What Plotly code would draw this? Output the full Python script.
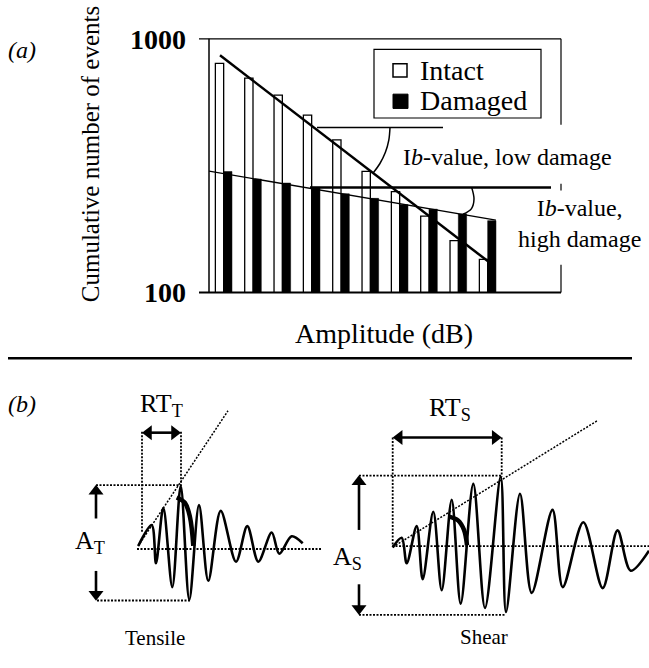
import plotly.graph_objects as go

W, H = 649, 668
FONT = "Liberation Serif, Times New Roman, Times, serif"

# ---------------- Panel (a) data ----------------
amplitude_bins = list(range(10))            # amplitude-bin index (category)
intact_counts = [800, 700, 600, 500, 400, 300, 250, 200, 160, 135]
damaged_counts = [300, 280, 270, 260, 245, 235, 222, 213, 204, 192]
y_tick_vals = [100, 1000]
y_tick_text = ["100", "1000"]
# fitted lines (end points, in bin / count units)
intact_fit_x = [-0.125, 9.0]
intact_fit_y = [861, 133]
damaged_fit_x = [-0.5, 9.28]
damaged_fit_y = [301, 193]

# ---------------- Panel (b) schematic data (pixel frame) ----------------
tensile_x = [138.3, 151.7, 156, 163.3, 172.3, 180.7, 189.3, 199, 208.3, 220.7,
             236, 247.3, 258.3, 271.7, 279.3, 291.7, 302.7]
tensile_y = [556.7, 535, 575, 516.7, 600, 494, 613.3, 514, 593.3, 520,
             573.3, 536, 573.3, 542.7, 565, 546.7, 554]
shear_x = [392.7, 401.7, 406.7, 416.7, 422.7, 433.3, 441.7, 451.7, 460.7, 473.3,
           485, 500.7, 506, 520, 531.7, 552.5, 562.7, 583.3, 602.7, 617.5, 630.7, 649]
shear_y = [558.3, 548.3, 575, 536, 591.7, 521, 603.3, 508.3, 617.3, 491.7,
           621.7, 484, 626, 502, 606, 519, 600, 532, 601, 540.5, 582.7, 561.7]
tensile_arc_x = [176.7, 185, 190, 193.3]
tensile_arc_y = [506, 511.7, 526.7, 556.7]
shear_arc_x = [449, 458, 464, 467]
shear_arc_y = [526, 530, 540, 556]

# decorations for panel (a) (pixel frame)
low_ref_x, low_ref_y = [317, 443], [118, 118]
high_ref_x, high_ref_y = [310, 551], [181, 181]
low_arc_x = [390, 388.8, 385.4, 379.8, 373]
low_arc_y = [118, 131.2, 144, 156, 165.8]
high_arc_x = [471.7, 474, 471.5, 463]
high_arc_y = [181, 193, 203, 209]

# panel a plot-area pixel box
PX0, PX1, PY0, PY1 = 209, 561, 25, 291

fig = go.Figure()

fig.add_trace(go.Bar(x=amplitude_bins, y=intact_counts, name="Intact",
                     marker=dict(color="white", line=dict(color="black", width=1.3)),
                     xaxis="x", yaxis="y"))
fig.add_trace(go.Bar(x=amplitude_bins, y=damaged_counts, name="Damaged",
                     marker=dict(color="black", line=dict(color="black", width=0.5)),
                     xaxis="x", yaxis="y"))
fig.add_trace(go.Scatter(x=intact_fit_x, y=intact_fit_y, mode="lines",
                         line=dict(color="black", width=2.5), xaxis="x", yaxis="y"))
fig.add_trace(go.Scatter(x=damaged_fit_x, y=damaged_fit_y, mode="lines",
                         line=dict(color="black", width=1.3), xaxis="x", yaxis="y"))

def ov(x, y, width=2, dash=None, shape="linear", smooth=None):
    ln = dict(color="black", width=width, shape=shape)
    if dash:
        ln["dash"] = dash
    if smooth is not None:
        ln["smoothing"] = smooth
    fig.add_trace(go.Scatter(x=x, y=y, mode="lines", line=ln, xaxis="x2", yaxis="y2"))

DOT = "2px,1.5px"
# panel a decorations
ov(low_ref_x, low_ref_y, 1.3)
ov(high_ref_x, high_ref_y, 2.5)
ov(low_arc_x, low_arc_y, 1.5, shape="spline")
ov(high_arc_x, high_arc_y, 1.5, shape="spline")

# panel b: tensile
ov([142, 142], [437, 542], 1.8, DOT)
ov([181, 181], [437, 494], 1.8, DOT)
ov([96, 181], [493, 493], 1.8, DOT)
ov([97, 190], [614, 614], 1.8, DOT)
ov([137, 322], [560, 560], 1.8, DOT)
ov([138, 228], [557, 415], 1.5, DOT)
ov(tensile_x, tensile_y, 2.6, shape="spline", smooth=0.9)
ov(tensile_arc_x, tensile_arc_y, 4.5, shape="spline")
# panel b: shear
ov([392.7, 392.7], [443, 557], 1.8, DOT)
ov([501.7, 501.7], [443, 484], 1.8, DOT)
ov([359, 502], [483, 483], 1.8, DOT)
ov([359, 506], [629, 629], 1.8, DOT)
ov([392, 649], [557, 557], 1.8, DOT)
ov([392.7, 598], [558, 425], 1.5, DOT)
ov(shear_x, shear_y, 2.6, shape="spline", smooth=0.9)
ov(shear_arc_x, shear_arc_y, 4.5, shape="spline")

# arrows: shaft + triangular head marker (pixel frame)
HEAD = 13
R = HEAD / 2.0
def arrow(tail, tip, both=False):
    (x0, y0), (x1, y1) = tail, tip
    horiz = (y0 == y1)
    def head(px, py, toward_pos):
        if horiz:
            sym = "triangle-right" if toward_pos else "triangle-left"
            return (px - R if toward_pos else px + R), py, sym
        sym = "triangle-down" if toward_pos else "triangle-up"
        return px, (py - R if toward_pos else py + R), sym
    hx, hy, hs = head(x1, y1, (x1 > x0) if horiz else (y1 > y0))
    xs, ys, syms = [hx], [hy], [hs]
    sx0, sy0 = x0, y0
    if both:
        bx, by, bs = head(x0, y0, (x0 > x1) if horiz else (y0 > y1))
        xs.append(bx); ys.append(by); syms.append(bs)
        sx0, sy0 = bx, by
    fig.add_trace(go.Scatter(x=[sx0, hx], y=[sy0, hy], mode="lines",
                             line=dict(color="black", width=2.6), xaxis="x2", yaxis="y2"))
    fig.add_trace(go.Scatter(x=xs, y=ys, mode="markers",
                             marker=dict(symbol=syms, size=HEAD, color="black",
                                         line=dict(width=0)),
                             xaxis="x2", yaxis="y2"))

arrow((142, 438), (181, 438), both=True)
arrow((392.7, 443), (501.7, 443), both=True)
arrow((96, 528), (96, 493))
arrow((96, 583), (96, 614))
arrow((359, 540), (359, 483))
arrow((359, 597), (359, 629))

shapes = []
def seg(x0, y0, x1, y1, w=1.2):
    shapes.append(dict(type="line", xref="x2", yref="y2", x0=x0, y0=y0, x1=x1, y1=y1,
                       line=dict(color="black", width=w), layer="above"))

# frame of panel a
seg(199, PY0, PX1, PY0, 1.2)
seg(199, PY1, PX1, PY1, 2.2)
seg(PX0, PY0, PX0, PY1, 1.5)
seg(PX1, PY0, PX1, 115, 1.2)
seg(PX1, 177, PX1, 184, 1.2)
seg(PX1, 262, PX1, PY1, 1.2)
# separator
seg(8, 360, 632, 360, 2.6)
# legend box
shapes.append(dict(type="rect", xref="x2", yref="y2", x0=374, y0=36, x1=541, y1=108,
                   line=dict(color="black", width=1.2), fillcolor="white", layer="below"))
shapes.append(dict(type="rect", xref="x2", yref="y2", x0=393, y0=51, x1=407, y1=65,
                   line=dict(color="black", width=1.5), fillcolor="white", layer="above"))
shapes.append(dict(type="rect", xref="x2", yref="y2", x0=393, y0=83, x1=408, y1=98,
                   line=dict(color="black", width=1), fillcolor="black", layer="above"))

ann = []
def txt(x, y, s, size, xanchor="center", italic=False, bold=False, angle=0, bg=None):
    f = dict(family=FONT, size=size, color="black")
    if italic:
        f["style"] = "italic"
    if bold:
        f["weight"] = "bold"
    d = dict(x=x, y=y, xref="x2", yref="y2", text=s, showarrow=False, font=f,
             xanchor=xanchor, yanchor="middle", textangle=angle, borderpad=0)
    if bg:
        d["bgcolor"] = bg
    ann.append(d)

txt(22, 37, "(a)", 24, italic=True)
txt(90, 146, "Cumulative number of events", 25, angle=-90)
txt(384, 334, "Amplitude (dB)", 28)
txt(419, 58, "Intact", 28, xanchor="left")
txt(419, 90, "Damaged", 28, xanchor="left")
txt(402, 149, "I<i>b</i>-value, low damage", 24, xanchor="left", bg="white")
txt(517, 219, "I<i>b</i>-value,<br>high damage", 24, xanchor="left", bg="white")

txt(22, 408, "(b)", 24, italic=True)
txt(161, 409, "RT<sub>T</sub>", 26)
txt(450, 413, "RT<sub>S</sub>", 26)
txt(90, 553, "A<sub>T</sub>", 26)
txt(347, 569, "A<sub>S</sub>", 26)
txt(155, 653, "Tensile", 21)
txt(484, 652, "Shear", 21)

fig.update_layout(
    width=W, height=H, margin=dict(l=0, r=0, t=0, b=0),
    paper_bgcolor="white", plot_bgcolor="rgba(0,0,0,0)",
    showlegend=False, barmode="group", bargap=0.434, bargroupgap=0,
    xaxis=dict(domain=[PX0 / W, PX1 / W], range=[-0.5, 11.5], showticklabels=False,
               showgrid=False, zeroline=False, showline=False, ticks=""),
    yaxis=dict(domain=[1 - PY1 / H, 1 - PY0 / H], type="log", range=[2, 3],
               tickvals=y_tick_vals, ticktext=y_tick_text, ticks="",
               showgrid=False, zeroline=False, showline=False,
               ticklabelstandoff=22,
               tickfont=dict(family=FONT, size=28, color="black", weight="bold")),
    xaxis2=dict(domain=[0, 1], range=[0, W], visible=False, anchor="y2"),
    yaxis2=dict(domain=[0, 1], range=[H, 0], visible=False, anchor="x2"),
    shapes=shapes, annotations=ann,
)

fig.write_html("out.html")
